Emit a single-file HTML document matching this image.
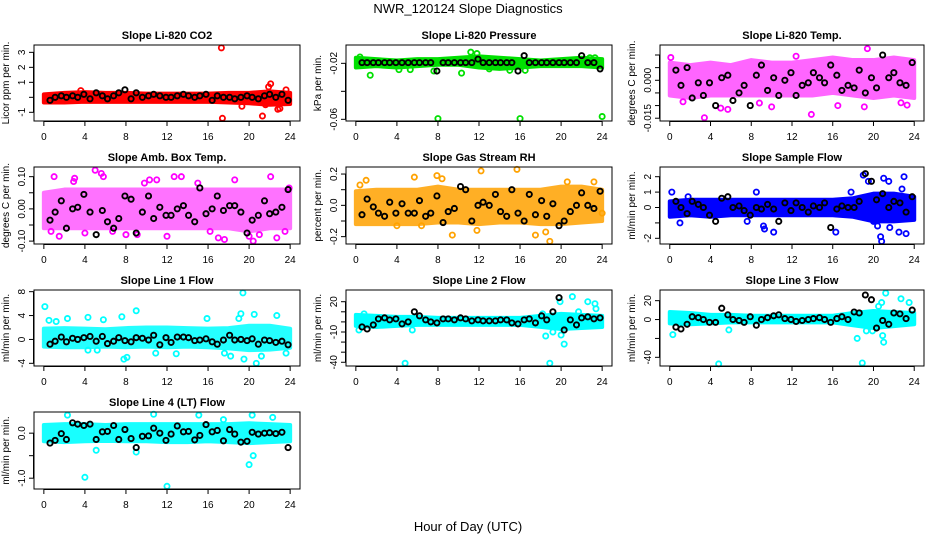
<!DOCTYPE html>
<html><head><meta charset="utf-8">
<style>
html,body{margin:0;padding:0;background:#fff;}
svg{display:block;font-family:"Liberation Sans",sans-serif;}
</style></head>
<body>
<svg id="chart" width="936" height="540" viewBox="0 0 936 540" xmlns="http://www.w3.org/2000/svg">
<text x="468" y="13" font-size="13" text-anchor="middle">NWR_120124  Slope Diagnostics</text>
<text x="468" y="531" font-size="13" text-anchor="middle">Hour of Day (UTC)</text>
</svg>
<script>
// ---- data ----
const xTicks = [0,4,8,12,16,20,24];
const bandHours = [0,2,4,6,8,10,12,14,16,18,20,22,24];
const blackHours = [0.6,1.1,1.7,2.2,2.8,3.3,3.9,4.5,5.1,5.7,6.2,6.8,7.3,7.9,8.5,9.0,9.6,10.2,10.7,11.3,11.9,12.4,13.0,13.6,14.1,14.7,15.2,15.8,16.4,16.9,17.5,18.1,18.6,19.2,19.8,20.3,20.9,21.5,22.0,22.6,23.2,23.8];

const co2Lo = [-0.35,-0.35,-0.3,-0.3,-0.3,-0.3,-0.3,-0.3,-0.3,-0.35,-0.4,-0.5,-0.45];
const co2Hi = [0.2,0.3,0.35,0.3,0.3,0.25,0.25,0.25,0.25,0.3,0.3,0.4,0.3];
const co2OutX = [17.3,17.4,21.3,22.1,21.9,22.8,23.0,23.6,3.6,19.3,21.6];
const co2OutY = [3.3,-1.4,-1.25,0.9,0.7,-0.8,-0.75,0.5,0.45,-0.6,-0.5];
const co2Black = [-0.2,0.0,0.1,0.0,0.1,0.0,0.2,-0.1,0.3,0.1,-0.1,0.1,0.3,0.5,-0.1,0.3,0.0,0.1,0.2,0.1,0.0,0.0,0.1,0.2,0.1,0.0,0.1,0.2,-0.2,0.1,0.0,0.0,-0.1,0.0,0.1,0.0,-0.1,0.1,0.2,0.0,0.2,-0.2];
const co2Ticks = [-1,0,1,2,3];
const co2Labels = ["-1","","1","2","3"];

const presLo = [-0.023,-0.022,-0.023,-0.022,-0.021,-0.021,-0.023,-0.024,-0.023,-0.022,-0.022,-0.022,-0.023];
const presHi = [-0.016,-0.017,-0.018,-0.017,-0.017,-0.016,-0.015,-0.016,-0.017,-0.018,-0.017,-0.016,-0.017];
const presOutX = [1.4,8.0,16.0,24.0,0.4,7.6,10.3,11.2,11.8,15.0,16.5,13.0,22.8,23.3,4.2,5.3];
const presOutY = [-0.0285,-0.0595,-0.0595,-0.058,-0.0155,-0.0255,-0.027,-0.012,-0.013,-0.025,-0.025,-0.024,-0.016,-0.016,-0.0245,-0.0245];
const presBlack = [-0.0195,-0.0195,-0.0195,-0.0195,-0.0195,-0.0195,-0.0195,-0.0195,-0.0195,-0.0195,-0.0195,-0.0195,-0.0195,-0.0255,-0.0195,-0.0195,-0.0195,-0.0195,-0.0195,-0.0195,-0.017,-0.0195,-0.0195,-0.0195,-0.0195,-0.0195,-0.0195,-0.0255,-0.0145,-0.0195,-0.0195,-0.0195,-0.0195,-0.0195,-0.0195,-0.0195,-0.0195,-0.0195,-0.0145,-0.0195,-0.0195,-0.024];
const presTicks = [-0.06,-0.04,-0.02];
const presLabels = ["-0.06","","-0.02"];

const litLo = [-0.006,-0.007,-0.006,-0.006,-0.006,-0.006,-0.006,-0.006,-0.005,-0.006,-0.007,-0.006,-0.007];
const litHi = [0.007,0.006,0.007,0.006,0.008,0.007,0.007,0.008,0.009,0.008,0.008,0.009,0.008];
const litOutX = [3.4,13.9,19.4,12.4,5.0,5.7,1.3,19.1,22.7,23.3,0.1,8.8,10.0,16.5];
const litOutY = [-0.0148,-0.0135,0.0125,0.0095,-0.011,-0.0115,-0.0085,-0.0105,-0.0089,-0.0098,0.009,-0.009,-0.0105,-0.010];
const litBlack = [0.004,-0.002,0.005,-0.007,-0.001,-0.006,-0.001,-0.010,0.001,0.002,-0.008,-0.005,-0.002,-0.010,0.002,0.006,-0.004,0.001,-0.006,0.000,0.003,-0.006,-0.002,-0.001,0.003,0.001,-0.001,0.006,0.002,-0.004,-0.002,-0.003,0.004,-0.005,0.001,-0.003,0.010,0.001,0.003,-0.001,-0.002,0.007];
const litTicks = [-0.015,-0.010,-0.005,0.000,0.005,0.010];
const litLabels = ["-0.015","","","0.000","",""];

const ambLo = [-0.06,-0.06,-0.06,-0.06,-0.06,-0.06,-0.06,-0.06,-0.06,-0.06,-0.07,-0.06,-0.06];
const ambHi = [0.05,0.06,0.06,0.06,0.06,0.06,0.06,0.06,0.06,0.06,0.06,0.06,0.06];
const ambOutX = [0.7,1.0,1.5,3.0,4.0,5.0,5.6,5.8,6.7,8.0,9.1,10.3,11.0,12.0,12.7,13.4,15.0,16.2,17.0,17.6,18.6,20.0,20.4,21.0,22.1,22.7,23.5,23.9,2.9,9.8];
const ambOutY = [-0.07,0.1,-0.085,0.095,-0.075,0.12,0.11,0.1,-0.07,-0.08,-0.08,0.09,0.09,-0.085,0.1,0.1,0.08,-0.07,-0.09,-0.095,0.09,-0.085,-0.1,-0.08,0.1,-0.09,-0.07,0.065,0.085,0.08];
const ambBlack = [-0.035,-0.01,0.025,-0.06,0.0,0.005,0.045,-0.01,-0.08,-0.005,-0.04,-0.06,-0.03,0.04,0.03,-0.075,-0.01,0.04,-0.03,0.005,-0.02,-0.02,0.0,0.01,-0.02,-0.04,0.065,-0.015,0.0,0.04,-0.005,0.01,0.01,-0.01,-0.075,-0.035,-0.02,0.025,-0.015,-0.01,0.005,0.06];
const ambTicks = [-0.10,-0.05,0.00,0.05,0.10];
const ambLabels = ["-0.10","","0.00","","0.10"];

const rhLo = [-0.12,-0.12,-0.12,-0.12,-0.11,-0.11,-0.12,-0.11,-0.11,-0.12,-0.12,-0.11,-0.1];
const rhHi = [0.09,0.1,0.1,0.1,0.12,0.1,0.1,0.1,0.1,0.1,0.12,0.12,0.1];
const rhOutX = [0.4,1.0,5.7,6.4,7.9,8.4,9.4,11.8,12.2,15.7,17.5,18.5,18.9,4.0,20.6,23.2,24.0];
const rhOutY = [0.13,0.16,0.18,-0.13,0.19,0.17,-0.19,-0.16,0.22,0.23,-0.19,-0.17,-0.23,-0.13,0.15,0.15,-0.05];
const rhBlack = [-0.06,0.04,-0.01,-0.05,-0.07,0.02,-0.05,0.01,-0.05,-0.05,0.03,-0.07,-0.05,0.06,-0.11,-0.04,-0.02,0.12,0.10,-0.1,0.0,0.02,0.0,0.07,-0.04,-0.07,0.1,-0.05,-0.10,0.07,-0.06,0.03,-0.07,0.01,-0.13,-0.1,-0.04,0.0,0.08,0.0,-0.02,0.09];
const rhTicks = [-0.2,-0.1,0.0,0.1,0.2];
const rhLabels = ["-0.2","","0.0","","0.2"];

const sfLo = [-0.6,-0.5,-0.6,-0.5,-0.5,-0.5,-0.5,-0.5,-0.5,-0.6,-0.9,-0.9,-0.8];
const sfHi = [0.4,0.5,0.5,0.5,0.5,0.5,0.5,0.5,0.5,0.6,0.9,0.9,0.7];
const sfOutX = [0.2,1.0,1.8,8.5,9.3,9.2,10.2,7.6,16.3,17.8,19.0,19.5,20.0,20.4,20.7,20.8,21.0,21.5,21.6,22.5,23.2,23.0,22.8];
const sfOutY = [1.0,-1.0,0.7,1.0,-1.4,-1.2,-1.6,-0.9,-1.6,1.0,2.1,1.7,-0.9,-1.2,-1.9,-2.2,1.9,1.7,-1.3,-1.6,-1.7,2.0,1.2];
const sfBlack = [0.4,0.0,-0.4,0.4,0.2,0.0,-0.5,-0.9,0.6,0.7,0.0,0.1,-0.2,-0.5,0.0,-0.1,0.2,-0.1,-0.9,0.3,-0.2,0.3,0.0,-0.3,0.1,0.0,0.3,-1.3,-0.1,0.1,0.0,0.0,0.4,2.2,1.7,0.5,0.9,0.0,0.4,0.3,-0.3,0.7];
const sfTicks = [-2,-1,0,1,2];
const sfLabels = ["-2","","0","1","2"];

const l1Lo = [-1.2,-1.3,-1.3,-1.2,-1.3,-1.2,-1.3,-1.2,-1.3,-1.5,-1.8,-1.7,-1.4];
const l1Hi = [1.8,1.9,1.8,1.7,1.9,2.0,2.0,1.9,1.8,1.9,2.3,2.3,1.8];
const l1OutX = [0.1,0.5,1.2,2.3,4.3,5.8,7.6,7.8,8.1,9.0,10.9,12.9,15.9,17.6,18.2,19.0,19.4,19.5,20.5,20.7,21.2,22.7,23.6,19.2,5.2,4.3];
const l1OutY = [5.5,3.2,3.0,3.5,3.7,3.3,3.8,-3.3,-3.0,4.8,-2.3,-2.4,3.5,-2.3,-2.8,3.5,7.8,-3.3,4.2,-4.0,-2.8,4.0,-2.3,4.3,-1.8,-1.8];
const l1Black = [-0.8,-0.3,0.4,-0.4,0.2,0.0,0.3,0.5,-0.3,0.5,-0.7,-0.3,0.3,-0.2,-0.4,0.3,0.2,-0.1,0.7,-0.9,0.3,-0.5,0.4,0.4,0.3,-0.2,-0.1,0.1,-0.4,-0.8,-0.1,0.7,-0.1,0.0,-0.2,0.1,-0.8,-0.1,-0.2,-0.5,-0.3,-0.9];
const l1Ticks = [-4,0,4,8];
const l1Labels = ["-4","0","4","8"];

const l2Lo = [-4,-5,-4,-3,-3,-3,-3,-3,-3,-5,-7,-6,-5];
const l2Hi = [7,6,5,5,4,4,4,4,4,6,8,7,6];
const l2OutX = [0.3,4.8,5.5,18.2,18.5,18.9,19.2,19.9,20.0,20.3,21.1,21.7,22.6,23.3,23.4,0.8];
const l2OutY = [-8,-41,-8,8,-14,-41,-10,20,-13,-22,25,10,20,18,13,8];
const l2Black = [-5,-7,-3,3,4,2,3,-2,0,10,6,2,0,-1,3,3,2,4,3,1,2,1,1,1,2,2,-1,-2,2,3,-1,6,2,10,24,-8,2,-3,4,5,3,4];
const l2Ticks = [-40,-30,-20,-10,0,10,20];
const l2Labels = ["-40","","","-10","","","20"];

const l3Lo = [-4,-5,-4,-3,-3,-3,-3,-3,-3,-6,-9,-7,-5];
const l3Hi = [8,7,5,5,4,4,4,4,4,7,9,8,7];
const l3OutX = [0.3,4.8,5.8,18.4,18.9,19.9,20.9,21.0,20.8,21.2,22.7,23.5,19.3,20.5];
const l3OutY = [-16,-47,-11,-20,-46,-12,-17,-24,18,28,22,18,-12,14];
const l3Black = [-8,-10,-5,3,2,0,-3,-3,12,5,0,-1,-3,3,-6,0,2,4,5,1,0,-2,-1,0,1,2,0,-3,1,3,0,8,7,26,21,-9,-1,-5,7,6,1,10];
const l3Ticks = [-40,-20,0,20];
const l3Labels = ["-40","","0","20"];

const l4Lo = [-0.18,-0.2,-0.18,-0.17,-0.18,-0.18,-0.2,-0.2,-0.18,-0.2,-0.22,-0.2,-0.18];
const l4Hi = [0.18,0.2,0.2,0.18,0.2,0.2,0.2,0.2,0.2,0.2,0.22,0.2,0.18];
const l4OutX = [4.0,12.0,20.0,20.4,9.0,5.1,2.3,10.7,15.1,20.3,22.3,17.5];
const l4OutY = [-0.98,-1.18,-0.7,-0.5,-0.42,-0.38,0.4,0.42,0.4,0.4,0.35,0.3];
const l4Black = [-0.22,-0.16,-0.01,-0.14,0.23,0.2,0.17,0.2,-0.14,0.03,0.04,0.17,-0.14,0.08,-0.12,-0.32,-0.07,-0.06,0.11,0.0,-0.16,-0.02,0.16,0.03,0.04,-0.15,-0.05,0.19,0.03,0.06,-0.17,0.08,-0.02,-0.2,-0.18,0.02,-0.02,0.0,0.01,-0.01,0.02,-0.32];
const l4Ticks = [-1.0,-0.5,0.0];
const l4Labels = ["-1.0","","0.0"];

// ---- layout ----
const NS = "http://www.w3.org/2000/svg";
const svg = document.getElementById('chart');
function mk(tag, attrs, parent){ const e=document.createElementNS(NS,tag); for(const k in attrs) e.setAttribute(k,attrs[k]); (parent||svg).appendChild(e); return e; }

const panels = [
 {key:'co2',title:'Slope Li-820 CO2',ylab:'Licor ppm per min.',box:[34,45,300,121],ydom:[-1.58,3.49],col:'#ff0000',op:1,lo:co2Lo,hi:co2Hi,ox:co2OutX,oy:co2OutY,bk:co2Black,ticks:co2Ticks,labels:co2Labels},
 {key:'pressure',title:'Slope Li-820 Pressure',ylab:'kPa per min.',box:[346,45,612,121],ydom:[-0.0612,-0.0069],col:'#00e000',op:1,lo:presLo,hi:presHi,ox:presOutX,oy:presOutY,bk:presBlack,ticks:presTicks,labels:presLabels},
 {key:'li-temp',title:'Slope Li-820 Temp.',ylab:'degrees C per min.',box:[660,45,924,121],ydom:[-0.0161,0.01395],col:'#ff00ff',op:0.6,lo:litLo,hi:litHi,ox:litOutX,oy:litOutY,bk:litBlack,ticks:litTicks,labels:litLabels},
 {key:'amb-temp',title:'Slope Amb. Box Temp.',ylab:'degrees C per min.',box:[34,167,300,244],ydom:[-0.109,0.130],col:'#ff00ff',op:0.55,lo:ambLo,hi:ambHi,ox:ambOutX,oy:ambOutY,bk:ambBlack,ticks:ambTicks,labels:ambLabels},
 {key:'rh',title:'Slope Gas Stream RH',ylab:'percent per min.',box:[346,167,612,244],ydom:[-0.247,0.245],col:'#ffa200',op:0.85,lo:rhLo,hi:rhHi,ox:rhOutX,oy:rhOutY,bk:rhBlack,ticks:rhTicks,labels:rhLabels},
 {key:'sample-flow',title:'Slope Sample Flow',ylab:'ml/min per min.',box:[660,167,924,244],ydom:[-2.37,2.63],col:'#0000ff',op:1,lo:sfLo,hi:sfHi,ox:sfOutX,oy:sfOutY,bk:sfBlack,ticks:sfTicks,labels:sfLabels},
 {key:'line1',title:'Slope Line 1 Flow',ylab:'ml/min per min.',box:[34,290,300,366],ydom:[-4.45,8.28],col:'#00ffff',op:0.85,lo:l1Lo,hi:l1Hi,ox:l1OutX,oy:l1OutY,bk:l1Black,ticks:l1Ticks,labels:l1Labels},
 {key:'line2',title:'Slope Line 2 Flow',ylab:'ml/min per min.',box:[346,290,612,366],ydom:[-43.7,31.6],col:'#00ffff',op:1,lo:l2Lo,hi:l2Hi,ox:l2OutX,oy:l2OutY,bk:l2Black,ticks:l2Ticks,labels:l2Labels},
 {key:'line3',title:'Slope Line 3 Flow',ylab:'ml/min per min.',box:[660,290,924,366],ydom:[-49.2,31.3],col:'#00ffff',op:1,lo:l3Lo,hi:l3Hi,ox:l3OutX,oy:l3OutY,bk:l3Black,ticks:l3Ticks,labels:l3Labels},
 {key:'line4',title:'Slope Line 4 (LT) Flow',ylab:'ml/min per min.',box:[34,412,300,489],ydom:[-1.24,0.47],col:'#00ffff',op:0.9,lo:l4Lo,hi:l4Hi,ox:l4OutX,oy:l4OutY,bk:l4Black,ticks:l4Ticks,labels:l4Labels}
];

panels.forEach(p=>{
  const [x0,y0,x1,y1]=p.box;
  const w=x1-x0, span=24*1.08;
  const xs = h => x0 + (h + 0.96)/span*w;
  const ys = v => y1 - (v - p.ydom[0])/(p.ydom[1]-p.ydom[0])*(y1-y0);
  const g = mk('g',{});
  
  

  const t = mk('text',{x:(x0+x1)/2,y:y0-6,'font-size':11,'font-weight':'bold','text-anchor':'middle'},g);
  t.textContent = p.title;
  
  

  const yl = mk('text',{x:0,y:0,'font-size':10,'text-anchor':'middle',transform:`translate(${x0-25},${(y0+y1)/2}) rotate(-90)`},g);
  yl.textContent = p.ylab;
  
  

  let pts = bandHours.map((h,i)=>xs(h)+','+ys(p.hi[i]));
  pts = pts.concat(bandHours.slice().reverse().map((h,i)=>xs(h)+','+ys(p.lo[bandHours.length-1-i])));
  const band = mk('polygon',{points:pts.join(' '),fill:p.col,stroke:p.col,'stroke-width':4,'stroke-linejoin':'round',opacity:p.op},g);
  
  

  p.ox.forEach((h,i)=>{
    const c = mk('circle',{cx:xs(h),cy:ys(p.oy[i]),r:2.6,fill:'none',stroke:p.col,'stroke-width':1.8},g);
    
    
  });
  blackHours.forEach((h,i)=>{
    const c = mk('circle',{cx:xs(h),cy:ys(p.bk[i]),r:2.6,fill:'none',stroke:'#000','stroke-width':1.9},g);
    
    
  });

  const box = mk('rect',{x:x0,y:y0,width:w,height:y1-y0,fill:'none',stroke:'#000','stroke-width':1},g);
  
  

  mk('line',{x1:xs(0),x2:xs(24),y1:y1+0.5,y2:y1+0.5,stroke:'#000'},g);
  xTicks.forEach(v=>{
    mk('line',{x1:xs(v),x2:xs(v),y1:y1,y2:y1+5,stroke:'#000'},g);
    const tl = mk('text',{x:xs(v),y:y1+19,'font-size':10,'text-anchor':'middle'},g);
    tl.textContent = String(v);
    
    
  });
  const yt0 = ys(p.ticks[0]), yt1 = ys(p.ticks[p.ticks.length-1]);
  mk('line',{x1:x0-0.5,x2:x0-0.5,y1:yt0,y2:yt1,stroke:'#000'},g);
  p.ticks.forEach((v,i)=>{
    mk('line',{x1:x0-5,x2:x0,y1:ys(v),y2:ys(v),stroke:'#000'},g);
    if(p.labels[i]){
      const tl = mk('text',{x:0,y:0,'font-size':10,'text-anchor':'middle',transform:`translate(${x0-9},${ys(v)}) rotate(-90)`},g);
      tl.textContent = p.labels[i];
      
      
    }
  });
});
</script>
</body></html>
